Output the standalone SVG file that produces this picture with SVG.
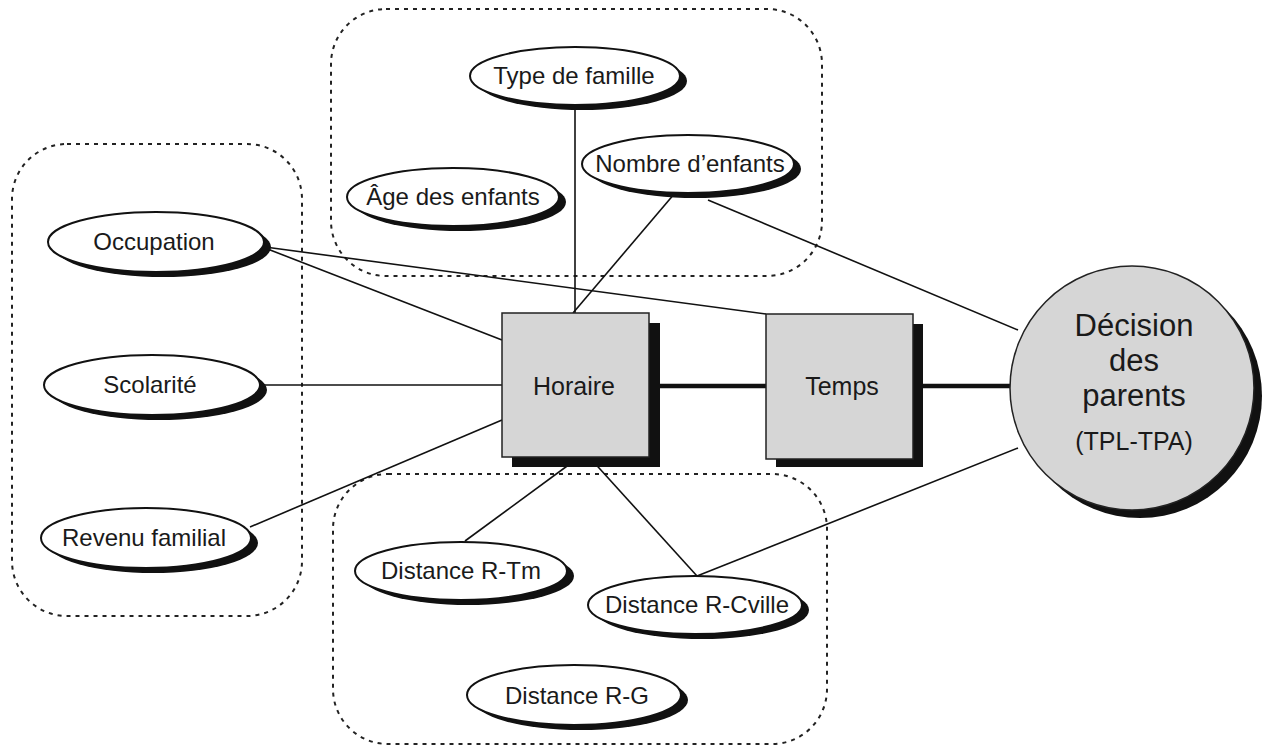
<svg xmlns="http://www.w3.org/2000/svg" width="1267" height="745" viewBox="0 0 1267 745">
<style>
.grp{fill:none;stroke:#222;stroke-width:2;stroke-dasharray:4 5}
.sh{fill:#111}
.el{fill:#fff;stroke:#111;stroke-width:2}
.box{fill:#d6d6d6;stroke:#222;stroke-width:1.5}
.t{font-family:"Liberation Sans",Arial,sans-serif;font-size:24px;fill:#1a1a1a;text-anchor:middle}
.tb{font-family:"Liberation Sans",Arial,sans-serif;font-size:25px;fill:#1a1a1a;text-anchor:middle}
.tc{font-family:"Liberation Sans",Arial,sans-serif;font-size:31px;fill:#1a1a1a;text-anchor:middle}
.ln{stroke:#111;stroke-width:1.6;fill:none}
.thick{stroke:#111;stroke-width:4.5;fill:none}
</style>
<rect width="1267" height="745" fill="#fff"/>
<g id="groups">
<rect class="grp" x="331" y="9" width="491" height="267" rx="55"/>
<rect class="grp" x="12" y="144" width="290" height="472" rx="55"/>
<rect class="grp" x="333" y="474" width="494" height="270" rx="55"/>
</g>
<g id="connectors">
<line class="ln" x1="575" y1="105" x2="575" y2="313"/>
<line class="ln" x1="675" y1="193" x2="573" y2="313"/>
<line class="ln" x1="708" y1="200" x2="1018" y2="330"/>
<line class="ln" x1="265" y1="248" x2="502" y2="340"/>
<line class="ln" x1="265" y1="247" x2="766" y2="314"/>
<line class="ln" x1="260" y1="385" x2="502" y2="385"/>
<line class="ln" x1="250" y1="527" x2="502" y2="420"/>
<line class="ln" x1="465" y1="541" x2="578" y2="458"/>
<line class="ln" x1="590" y1="458" x2="697" y2="576"/>
<line class="ln" x1="697" y1="576" x2="1018" y2="448"/>
<line class="thick" x1="649" y1="386" x2="766" y2="386"/>
<line class="thick" x1="913" y1="386" x2="1010" y2="386"/>
</g>
<g id="type-famille">
<ellipse class="sh" cx="582" cy="81" rx="105" ry="29"/>
<ellipse class="el" cx="575" cy="76" rx="105" ry="29"/>
<text class="t" x="574" y="84">Type de famille</text>
</g>
<g id="nombre-enfants">
<ellipse class="sh" cx="695" cy="169" rx="106" ry="29"/>
<ellipse class="el" cx="688" cy="164" rx="106" ry="29"/>
<text class="t" x="690" y="172">Nombre d’enfants</text>
</g>
<g id="age-enfants">
<ellipse class="sh" cx="460" cy="202" rx="106" ry="29"/>
<ellipse class="el" cx="453" cy="197" rx="106" ry="29"/>
<text class="t" x="453" y="205">Âge des enfants</text>
</g>
<g id="occupation">
<ellipse class="sh" cx="163" cy="247" rx="108" ry="30"/>
<ellipse class="el" cx="156" cy="242" rx="108" ry="30"/>
<text class="t" x="154" y="250">Occupation</text>
</g>
<g id="scolarite">
<ellipse class="sh" cx="159" cy="390" rx="108" ry="30"/>
<ellipse class="el" cx="152" cy="385" rx="108" ry="30"/>
<text class="t" x="150" y="393">Scolarité</text>
</g>
<g id="revenu">
<ellipse class="sh" cx="153" cy="543" rx="105" ry="30"/>
<ellipse class="el" cx="146" cy="538" rx="105" ry="30"/>
<text class="t" x="144" y="546">Revenu familial</text>
</g>
<g id="distance-r-tm">
<ellipse class="sh" cx="468" cy="576" rx="106" ry="29"/>
<ellipse class="el" cx="461" cy="571" rx="106" ry="29"/>
<text class="t" x="461" y="579">Distance R-Tm</text>
</g>
<g id="distance-r-cville">
<ellipse class="sh" cx="702" cy="610" rx="107" ry="29"/>
<ellipse class="el" cx="695" cy="605" rx="107" ry="29"/>
<text class="t" x="697" y="613">Distance R-Cville</text>
</g>
<g id="distance-r-g">
<ellipse class="sh" cx="581" cy="700" rx="107" ry="30"/>
<ellipse class="el" cx="574" cy="695" rx="107" ry="30"/>
<text class="t" x="577" y="704">Distance R-G</text>
</g>
<g id="horaire">
<rect class="sh" x="512" y="323" width="148" height="144"/>
<rect class="box" x="502" y="313" width="147" height="144"/>
<text class="tb" x="574" y="395">Horaire</text>
</g>
<g id="temps">
<rect class="sh" x="776" y="324" width="147" height="143"/>
<rect class="box" x="766" y="314" width="147" height="145"/>
<text class="tb" x="842" y="395">Temps</text>
</g>
<g id="decision">
<circle class="sh" cx="1140" cy="396" r="122"/>
<circle class="box" cx="1132" cy="388" r="122" stroke-width="2"/>
<text class="tc" x="1134" y="336">Décision</text>
<text class="tc" x="1134" y="371">des</text>
<text class="tc" x="1134" y="406">parents</text>
<text class="tb" x="1134" y="450">(TPL-TPA)</text>
</g>
</svg>
